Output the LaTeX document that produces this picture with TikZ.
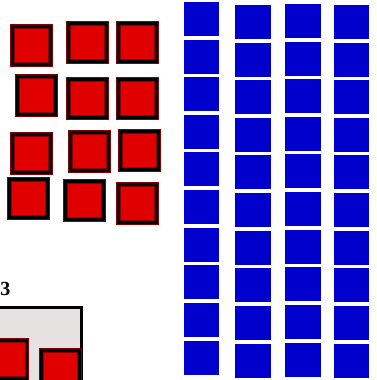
\documentclass[tikz,border=0pt]{standalone}
\usepackage{fontspec}
\setmainfont{Liberation Serif}
\definecolor{sqred}{HTML}{E00000}
\definecolor{sqdark}{HTML}{8A0000}
\definecolor{sqblue}{HTML}{0000CC}
\definecolor{boxgray}{HTML}{E6E2E2}
\newcommand\rsq[2]{%
  \fill[sqred] (#1,#2) rectangle ++(42.5,42.5);
  \draw[sqdark, line width=0.9] ({#1+0.45},{#2+0.45}) rectangle ++(41.6,41.6);
  \draw[black, line width=2.8] ({#1+2.3},{#2+2.3}) rectangle ++(37.9,37.9);
  \draw[sqdark, line width=0.7] ({#1+4},{#2+4}) rectangle ++(34.5,34.5);
}
\newcommand\bcol[3]{% x, first top, step list
  \foreach \t in {#2} { \fill[sqblue] (#1,\t) rectangle ++(#3,34); }
}
\begin{document}
\begin{tikzpicture}[x=1pt,y=-1pt]
\clip (0,0) rectangle (376,380);
\fill[white] (0,0) rectangle (376,380);
% red grid
\rsq{10}{24}\rsq{66.3}{21}\rsq{116}{21}
\rsq{15}{74}\rsq{66.3}{77}\rsq{116}{77}
\rsq{10}{132}\rsq{68}{130}\rsq{118}{129}
\rsq{7}{177}\rsq{63}{179}\rsq{116}{182}
% blue columns
\bcol{184}{2,40,77,115,152,190,228,265,303,341}{35}
\bcol{235}{5,43,80,118,155,193,231,268,306,344}{36}
\bcol{285}{4,42,79,117,154,192,230,267,305,343}{36}
\bcol{334}{5,43,80,118,155,193,231,268,306,344}{35}
% bottom-left box
\node[anchor=base east, inner sep=0pt, font=\fontsize{20}{20}\selectfont\bfseries] (lbl) at (10.6,295.3) {3};
\draw[black, line width=3, fill=boxgray] (-10,307.5) rectangle (81.5,400);
\rsq{-13.5}{338}
\rsq{39}{348}
\end{tikzpicture}
\end{document}
